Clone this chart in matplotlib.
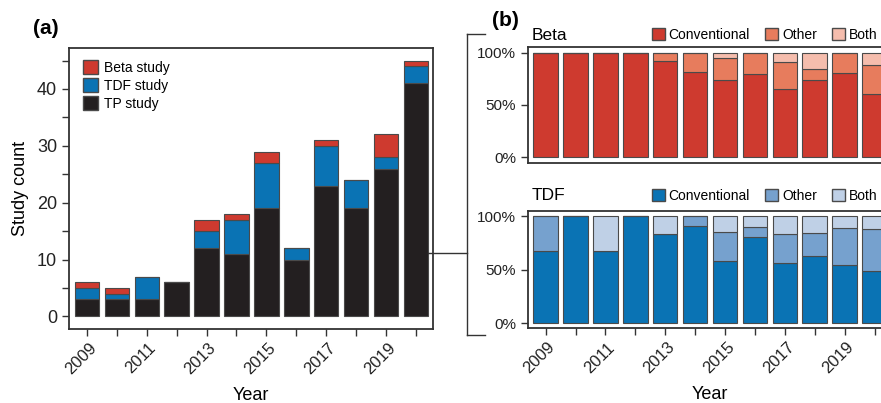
import numpy as np
import matplotlib
matplotlib.use("Agg")
import matplotlib.pyplot as plt
import matplotlib.transforms as mtrans
from matplotlib.lines import Line2D
from matplotlib.patches import Patch

plt.rcParams['font.family'] = ['Liberation Sans', 'DejaVu Sans']

years = list(range(2009, 2021))
year_labels = [str(y) if (y - 2009) % 2 == 0 else "" for y in years]

# panel (a) counts
tp_study = [3, 3, 3, 6, 12, 11, 19, 10, 23, 19, 26, 41]
tdf_study = [2, 1, 4, 0, 3, 6, 8, 2, 7, 5, 2, 3]
beta_study = [1, 1, 0, 0, 2, 1, 2, 0, 1, 0, 4, 1]

# panel (b) percentages
beta_conv = [100, 100, 100, 100, 92, 82, 74, 80, 65, 74, 81, 61]
beta_other = [0, 0, 0, 0, 8, 18, 21, 20, 26, 10, 19, 27]
beta_both = [0, 0, 0, 0, 0, 0, 5, 0, 9, 16, 0, 12]

tdf_conv = [67, 100, 67, 100, 83, 91, 58, 80, 56, 63, 54, 49]
tdf_other = [33, 0, 0, 0, 0, 9, 27, 10, 27, 21, 35, 39]
tdf_both = [0, 0, 33, 0, 17, 0, 15, 10, 17, 16, 11, 12]

c_black = "#231F20"
c_red = "#CE3A2F"
c_red_other = "#E77C5D"
c_red_both = "#F5BDAD"
c_blue = "#0A73B4"
c_blue_other = "#76A1CE"
c_blue_both = "#BFD0E6"
edge = "#4a4a4a"
spine_c = "#333333"

W, H = 881, 403
fig = plt.figure(figsize=(W / 100, H / 100), dpi=100)

x = np.arange(len(years))
bw = 0.82


def style_frame(ax):
    for s in ax.spines.values():
        s.set_color(spine_c)
        s.set_linewidth(1.3)
    ax.tick_params(colors="#222222", labelsize=11, length=5, width=1, color=spine_c)
    ax.tick_params(axis="x", labelsize=12, pad=7)


def year_ticks(ax):
    ax.set_xticks(x)
    labs = ax.set_xticklabels(year_labels, rotation=45, ha="right", va="center",
                              rotation_mode="anchor")
    shift = mtrans.ScaledTranslation(7 / 100, 0, fig.dpi_scale_trans)
    for t in labs:
        t.set_transform(t.get_transform() + shift)


# ---- panel (a)
ax = fig.add_axes([69 / W, 1 - 329 / H, (433 - 69) / W, (329 - 48) / H])
b1 = np.array(tp_study)
b2 = b1 + np.array(tdf_study)
ax.bar(x, tp_study, bw, color=c_black, edgecolor=edge, lw=0.8, label="TP study")
ax.bar(x, tdf_study, bw, bottom=b1, color=c_blue, edgecolor=edge, lw=0.8, label="TDF study")
ax.bar(x, beta_study, bw, bottom=b2, color=c_red, edgecolor=edge, lw=0.8, label="Beta study")
ax.set_xlim(-0.6, 11.57)
ax.set_ylim(-2.2, 47.2)
ax.set_yticks([0, 10, 20, 30, 40])
ax.set_yticks([5, 15, 25, 35, 45], minor=True)
style_frame(ax)
ax.tick_params(axis="y", which="minor", length=5, width=1, color=spine_c)
ax.tick_params(axis="y", labelsize=13)
year_ticks(ax)
ax.set_ylabel("Study count", fontsize=13, labelpad=6)
ax.set_xlabel("Year", fontsize=13, labelpad=7)
h = [Patch(facecolor=c_red, edgecolor=edge), Patch(facecolor=c_blue, edgecolor=edge),
     Patch(facecolor=c_black, edgecolor=edge)]
ax.legend(h, ["Beta study", "TDF study", "TP study"], loc="upper left", frameon=False,
          fontsize=10, handlelength=1.1, handleheight=1.1, handletextpad=0.4,
          labelspacing=0.25, borderaxespad=0.6, bbox_to_anchor=(0.0, 1.005))
fig.text(33 / W, 1 - 29 / H, "(a)", fontsize=15, fontweight="bold", va="center")

# ---- panel (b)
axw = 12.17 * 29.9 / W


def pct_panel(ax, conv, other, both, cols):
    c = np.array(conv)
    o = np.array(other)
    ax.bar(x, conv, bw, color=cols[0], edgecolor=edge, lw=0.8)
    ax.bar(x, other, bw, bottom=c, color=cols[1], edgecolor=edge, lw=0.8)
    ax.bar(x, both, bw, bottom=c + o, color=cols[2], edgecolor=edge, lw=0.8)
    ax.set_xlim(-0.6, 11.57)
    ax.set_yticks([0, 50, 100])
    ax.set_yticklabels(["0%", "50%", "100%"])
    style_frame(ax)


ax1 = fig.add_axes([527.7 / W, 1 - 162.7 / H, axw, (162.7 - 47.3) / H])
pct_panel(ax1, beta_conv, beta_other, beta_both, [c_red, c_red_other, c_red_both])
ax1.set_ylim(-5.2, 105.2)
ax1.set_xticks([])

ax2 = fig.add_axes([527.7 / W, 1 - 328.3 / H, axw, (328.3 - 211) / H])
pct_panel(ax2, tdf_conv, tdf_other, tdf_both, [c_blue, c_blue_other, c_blue_both])
ax2.set_ylim(-4.7, 104.7)
year_ticks(ax2)
ax2.set_xlabel("Year", fontsize=13, labelpad=7)

fig.text(532 / W, 1 - 35 / H, "Beta", fontsize=12.5, va="center")
fig.text(532 / W, 1 - 196 / H, "TDF", fontsize=12.5, va="center")
for ypos, cols in [(35, [c_red, c_red_other, c_red_both]),
                   (196, [c_blue, c_blue_other, c_blue_both])]:
    hh = [Patch(facecolor=cc, edgecolor=edge) for cc in cols]
    fig.legend(hh, ["Conventional", "Other", "Both"], ncol=3, frameon=False,
               loc="center left", bbox_to_anchor=(652 / W, 1 - ypos / H), fontsize=10,
               handlelength=0.9, handleheight=0.9, handletextpad=0.3,
               columnspacing=1.1, borderaxespad=0, borderpad=0)
fig.text(492 / W, 1 - 20 / H, "(b)", fontsize=15, fontweight="bold", va="center")

# bracket linking panels
lc = "#333333"
bx = 466.7 / W
fig.add_artist(Line2D([428 / W, bx], [1 - 253 / H] * 2, color=lc, lw=1))
fig.add_artist(Line2D([bx, bx], [1 - 34 / H, 1 - 335 / H], color=lc, lw=1))
fig.add_artist(Line2D([bx, 485 / W], [1 - 34 / H] * 2, color=lc, lw=1))
fig.add_artist(Line2D([bx, 485 / W], [1 - 335 / H] * 2, color=lc, lw=1))

fig.savefig("out.png", dpi=100)
